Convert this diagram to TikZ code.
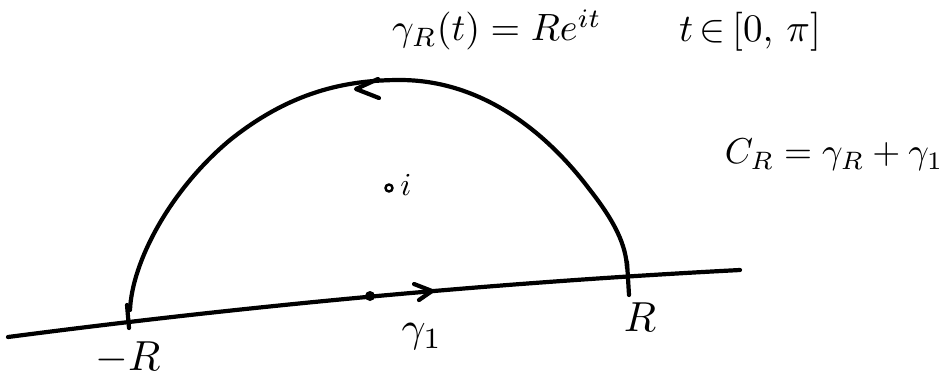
\documentclass[tikz,border=0pt]{standalone}
\begin{document}
\begin{tikzpicture}[x=1pt,y=-1pt,
  ink/.style={line width=4.2pt,line cap=round,line join=round,black},
  lbl/.style={inner sep=0pt}]
\useasboundingbox (0,0) rectangle (949,384);
% coordinates
\coordinate (axL) at (8,337);
\coordinate (axR) at (740,270);
\coordinate (org) at (370,296);
% real axis
\draw[ink] (axL) .. controls (200,312) and (450,285) .. (axR);
% ticks
\draw[ink] (127,305) -- (129,328);
\draw[ink] (627,262) -- (629,295);
% semicircle arc
\draw[ink] (130,310) .. controls (132,262) and (170,190) .. (230,140)
  .. controls (290,92) and (345,80) .. (400,80)
  .. controls (480,80) and (545,130) .. (590,190)
  .. controls (615,222) and (626,245) .. (627,268);
% arrow heads
\draw[ink] (378,79) -- (356,89) -- (379,98);
\draw[ink] (414,284) -- (432,291) -- (419,300);
% origin dot
\fill (org) circle (5);
% point i
\draw[line width=2.4pt] (389,188) circle (3.5);
\node[lbl] (ilab) at (406,185) {\scalebox{3.2}{$i$}};
% labels
\node[lbl] (gam) at (497,30) {\scalebox{3.8}{$\gamma_R(t)= Re^{it}$}};
\node[lbl] (dom) at (750,32) {\scalebox{3.9}{$t\,{\in}\,[0,\,\pi]$}};
\node[lbl] (cr) at (834,155) {\scalebox{3.6}{$C_R=\gamma_R+\gamma_1$}};
\node[lbl] (lmR) at (128,358) {\scalebox{4.2}{$-R$}};
\node[lbl] (lg1) at (422,337) {\scalebox{4.2}{$\gamma_1$}};
\node[lbl] (lpR) at (640,317) {\scalebox{4.2}{$R$}};
\end{tikzpicture}
\end{document}
